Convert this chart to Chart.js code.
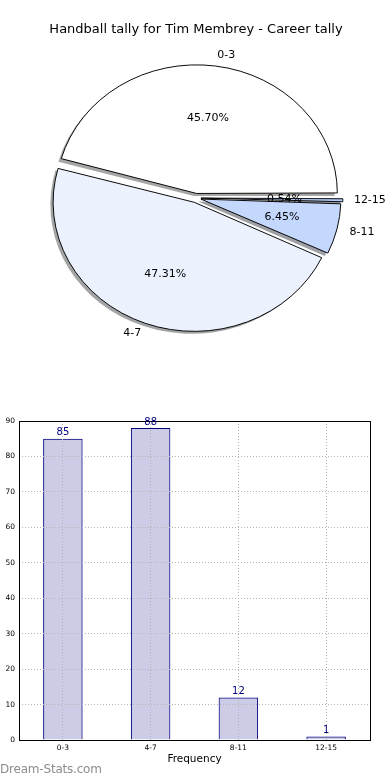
<!DOCTYPE html>
<html>
<head>
<meta charset="utf-8">
<script src="https://cdn.jsdelivr.net/npm/chart.js@4/dist/chart.umd.min.js"></script>
<style>
  html, body { margin: 0; padding: 0; background: #fff; }
  body { width: 390px; height: 780px; position: relative; overflow: hidden; font-family: "DejaVu Sans", sans-serif; }
  #pieBox { position: absolute; left: 0; top: 0; width: 390px; height: 380px; }
  #barBox { position: absolute; left: 0; top: 380px; width: 390px; height: 400px; }
  #mark { position: absolute; left: 0; top: 762px; font-size: 12px; color: #8c8c8c; letter-spacing: -0.2px; }
</style>
</head>
<body>
<div id="pieBox"><canvas id="pie"></canvas></div>
<div id="barBox"><canvas id="bar"></canvas></div>
<div id="mark">Dream-Stats.com</div>
<script>
var categories = ["0-3", "4-7", "8-11", "12-15"];
var tally = [85, 88, 12, 1];
var pieColors = ["#ffffff", "#ebf2fe", "#c4d8fe", "#b4cdfa"];
var yTicks = [0, 10, 20, 30, 40, 50, 60, 70, 80, 90];

var title = "Handball tally for Tim Membrey - Career tally";
var SY = 128 / 140;   // pie is drawn as an ellipse, like the original
var total = tally.reduce(function (a, b) { return a + b; }, 0);

// chart.js goes clockwise from the start angle, so reverse the order
var pieLabels = categories.slice().reverse();
var pieValues = tally.slice().reverse();
var pieFill = pieColors.slice().reverse();

function shadeOf(hex) {
    var r = parseInt(hex.substr(1, 2), 16), g = parseInt(hex.substr(3, 2), 16), b = parseInt(hex.substr(5, 2), 16);
    return "rgba(" + Math.round(r * 0.3) + "," + Math.round(g * 0.3) + "," + Math.round(b * 0.3) + ",0.5)";
}

var pieExtras = {
    id: "pieExtras",
    beforeDatasetsDraw: function (chart) {
        var ctx = chart.ctx;
        var arcs = chart.getDatasetMeta(0).data;
        var cx = arcs[0].x, cy = arcs[0].y;
        ctx.save();
        ctx.translate(cx, cy);
        ctx.scale(1, SY);
        ctx.translate(-cx, -cy);
        // shadows behind all wedges
        arcs.forEach(function (el, i) {
            var p = el.getProps(["x", "y", "startAngle", "endAngle", "outerRadius", "circumference"]);
            var mid = (p.startAngle + p.endAngle) / 2;
            var t = (el.options.offset || 0) / 4;
            var fix = 1 - Math.sin(Math.min(Math.PI, p.circumference));
            var r = p.outerRadius + t * fix;
            var sx = p.x + Math.cos(mid) * t - 0.02 * p.outerRadius;
            var sy = p.y + Math.sin(mid) * t + 0.02 * p.outerRadius;
            ctx.beginPath();
            ctx.moveTo(sx, sy);
            ctx.arc(sx, sy, r, p.startAngle, p.endAngle);
            ctx.closePath();
            ctx.fillStyle = shadeOf(pieFill[i]);
            ctx.fill();
        });
    },
    afterDatasetsDraw: function (chart) {
        var ctx = chart.ctx;
        ctx.restore();
        var arcs = chart.getDatasetMeta(0).data;
        ctx.save();
        ctx.fillStyle = "#000";
        ctx.font = "11px 'DejaVu Sans'";
        ctx.textBaseline = "middle";
        arcs.forEach(function (el, i) {
            var p = el.getProps(["x", "y", "startAngle", "endAngle", "outerRadius"]);
            var mid = (p.startAngle + p.endAngle) / 2;
            var t = (el.options.offset || 0) / 4;
            var c = Math.cos(mid), s = Math.sin(mid);
            var R = p.outerRadius + 2;
            // percentage inside
            ctx.textAlign = "center";
            ctx.fillText((pieValues[i] / total * 100).toFixed(2) + "%",
                p.x + c * (t + 0.6 * R), p.y + s * (t + 0.6 * R) * SY);
            // category outside
            ctx.textAlign = c > 0 ? "left" : "right";
            ctx.fillText(pieLabels[i], p.x + c * (t + 1.1 * R), p.y + s * (t + 1.1 * R) * SY);
        });
        ctx.restore();
    }
};

new Chart(document.getElementById("pie"), {
    type: "pie",
    data: {
        labels: pieLabels,
        datasets: [{
            data: pieValues,
            backgroundColor: pieFill,
            borderColor: "#000",
            borderWidth: 1,
            offset: 20,
            radius: 137,
            clip: false
        }]
    },
    options: {
        responsive: true,
        maintainAspectRatio: false,
        animation: false,
        events: [],
        rotation: 90,
        layout: { padding: { left: 2, right: 0, top: 0, bottom: 31.6 } },
        plugins: {
            legend: { display: false },
            tooltip: { enabled: false },
            title: {
                display: true,
                text: title,
                color: "#000",
                font: { family: "DejaVu Sans", size: 13, weight: "normal", lineHeight: 1.2 },
                padding: { top: 22, bottom: 10 }
            }
        }
    },
    plugins: [pieExtras]
});

var barExtras = {
    id: "barExtras",
    afterDraw: function (chart) {
        var ctx = chart.ctx, a = chart.chartArea;
        ctx.save();
        ctx.strokeStyle = "#000";
        ctx.lineWidth = 1;
        ctx.strokeRect(Math.round(a.left) + 0.5, Math.round(a.top) + 0.5,
            Math.round(a.right - a.left), Math.round(a.bottom - a.top));
        ctx.fillStyle = "#000080";
        ctx.font = "10px 'DejaVu Sans'";
        ctx.textAlign = "center";
        ctx.textBaseline = "bottom";
        chart.getDatasetMeta(0).data.forEach(function (bar, i) {
            ctx.fillText(String(tally[i]), bar.x, bar.y - 1);
        });
        ctx.restore();
    }
};

new Chart(document.getElementById("bar"), {
    type: "bar",
    data: {
        labels: categories,
        datasets: [{
            data: tally,
            backgroundColor: "rgba(0,0,128,0.2)",
            borderColor: "#000080",
            borderWidth: 1,
            barPercentage: 0.45,
            categoryPercentage: 1
        }]
    },
    options: {
        responsive: true,
        maintainAspectRatio: false,
        animation: false,
        events: [],
        layout: { padding: { left: 0, right: 20, top: 41, bottom: 0 } },
        plugins: { legend: { display: false }, tooltip: { enabled: false } },
        scales: {
            x: {
                grid: { offset: false, color: "#b4b4b4", drawTicks: false, z: 1 },
                border: { display: false, dash: [1, 2] },
                ticks: { color: "#000", font: { family: "DejaVu Sans", size: 7.5 }, padding: 4, maxRotation: 0 },
                title: {
                    display: true, text: "Frequency", color: "#000",
                    font: { family: "DejaVu Sans", size: 10.5 }, padding: { top: 0, bottom: 14 }
                },
                afterFit: function (scale) { scale.height = 40; }
            },
            y: {
                min: yTicks[0],
                max: yTicks[yTicks.length - 1],
                afterBuildTicks: function (scale) {
                    scale.ticks = yTicks.map(function (v) { return { value: v }; });
                },
                grid: { color: "#b4b4b4", drawTicks: false, z: 1 },
                border: { display: false, dash: [1, 2] },
                ticks: { color: "#000", font: { family: "DejaVu Sans", size: 7.5 }, padding: 4 },
                afterFit: function (scale) { scale.width = 19; }
            }
        }
    },
    plugins: [barExtras]
});
</script>
</body>
</html>
